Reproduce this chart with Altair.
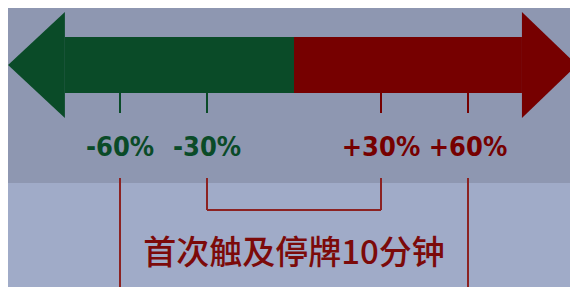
import altair as alt
import pandas as pd

# ---- data ----
tick_values = [-60, -30, 30, 60]
tick_labels = ["-60%", "-30%", "+30%", "+60%"]
tick_sides = ["down", "down", "up", "up"]
inner_band = [-30, 30]      # first trigger: 10-minute halt
outer_band = [-60, 60]
caption = "首次触及停牌10分钟"
arrow_sides = ["down", "up"]
arrow_start = [0, 0]
arrow_end = [-79, 78.6]        # end of shaft (start of arrowhead)
arrow_tip = [-98.6, 97.6]

# ---- layout / styles ----
W, H = 562, 279
GREEN, RED = "#0a4b28", "#760000"
GREEN_TXT, RED_TXT = "#0f5a3c", "#7c0a0a"
LINE_RED = "#8c2222"
BG_TOP, BG_BOTTOM = "#8e97b1", "#a0abc8"
LABEL_FONT = "DejaVu Sans Condensed, Roboto Condensed, Roboto, sans-serif"

xs = alt.Scale(domain=[-98.62, 95.17], nice=False, zero=False)
ys = alt.Scale(domain=[8, 287], range=[0, H], nice=False, zero=False)
cs = alt.Scale(domain=["down", "up"], range=[GREEN, RED])
cs_txt = alt.Scale(domain=["down", "up"], range=[GREEN_TXT, RED_TXT])

def X(f="x"):
    return alt.X(f"{f}:Q", scale=xs, axis=None)

def Y(f="y"):
    return alt.Y(f"{f}:Q", scale=ys, axis=None)

# lower lighter panel
panel = alt.Chart(pd.DataFrame({"y": [183], "y2": [287]})).mark_rect(
    color=BG_BOTTOM).encode(x=alt.value(0), x2=alt.value(W), y=Y(), y2="y2:Q")

# arrow shafts
shaft_df = pd.DataFrame({"side": arrow_sides, "x": arrow_start, "x2": arrow_end,
                         "y": [37] * 2, "y2": [93] * 2})
shafts = alt.Chart(shaft_df).mark_rect().encode(
    x=X(), x2="x2:Q", y=Y(), y2="y2:Q",
    color=alt.Color("side:N", scale=cs, legend=None))

# arrow heads (triangles)
head_rows = []
for s, e, t in zip(arrow_sides, arrow_end, arrow_tip):
    head_rows.append({"side": s, "x": e, "y": 12, "y2": 118})
    head_rows.append({"side": s, "x": t, "y": 65, "y2": 65})
heads = alt.Chart(pd.DataFrame(head_rows)).mark_area(orient="vertical", clip=True).encode(
    x=X(), y=Y(), y2="y2:Q",
    color=alt.Color("side:N", scale=cs, legend=None),
    detail="side:N")

# tick marks under the shaft
tick_df = pd.DataFrame({"x": tick_values, "label": tick_labels, "side": tick_sides,
                        "y": [93] * 4, "y2": [113] * 4, "ty": [156] * 4})
ticks = alt.Chart(tick_df).mark_rule(strokeWidth=2).encode(
    x=X(), y=Y(), y2="y2:Q",
    color=alt.Color("side:N", scale=cs_txt, legend=None))
labels = alt.Chart(tick_df).mark_text(
    font=LABEL_FONT, fontWeight="bold", fontSize=27,
    baseline="alphabetic", align="center").encode(
    x=X(), y=Y("ty"), text="label:N",
    color=alt.Color("side:N", scale=cs_txt, legend=None))

# long lines at ±60
outer_df = pd.DataFrame({"x": outer_band, "y": [178] * 2, "y2": [287] * 2})
outer = alt.Chart(outer_df).mark_rule(color=LINE_RED, strokeWidth=2).encode(
    x=X(), y=Y(), y2="y2:Q")

# bracket ±30
br_v_df = pd.DataFrame({"x": inner_band, "y": [178] * 2, "y2": [210] * 2})
br_v = alt.Chart(br_v_df).mark_rule(color=LINE_RED, strokeWidth=2).encode(
    x=X(), y=Y(), y2="y2:Q")
br_h_df = pd.DataFrame({"x": [inner_band[0]], "x2": [inner_band[1]], "y": [210]})
br_h = alt.Chart(br_h_df).mark_rule(color=LINE_RED, strokeWidth=2).encode(
    x=X(), x2="x2:Q", y=Y())

cap = alt.Chart(pd.DataFrame({"x": [0], "y": [264], "t": [caption]})).mark_text(
    font="Noto Sans CJK SC", fontWeight=500, fontSize=33, color=RED_TXT,
    baseline="alphabetic", align="center").encode(x=X(), y=Y(), text="t:N")

chart = alt.layer(panel, outer, br_v, br_h, shafts, heads, ticks, labels, cap).properties(
    width=W, height=H, autosize=alt.AutoSizeParams(type="none"), padding=0,
    background=BG_TOP
).configure_view(stroke=None)

chart.save("out.html", embed_options={"renderer": "svg", "actions": False})
